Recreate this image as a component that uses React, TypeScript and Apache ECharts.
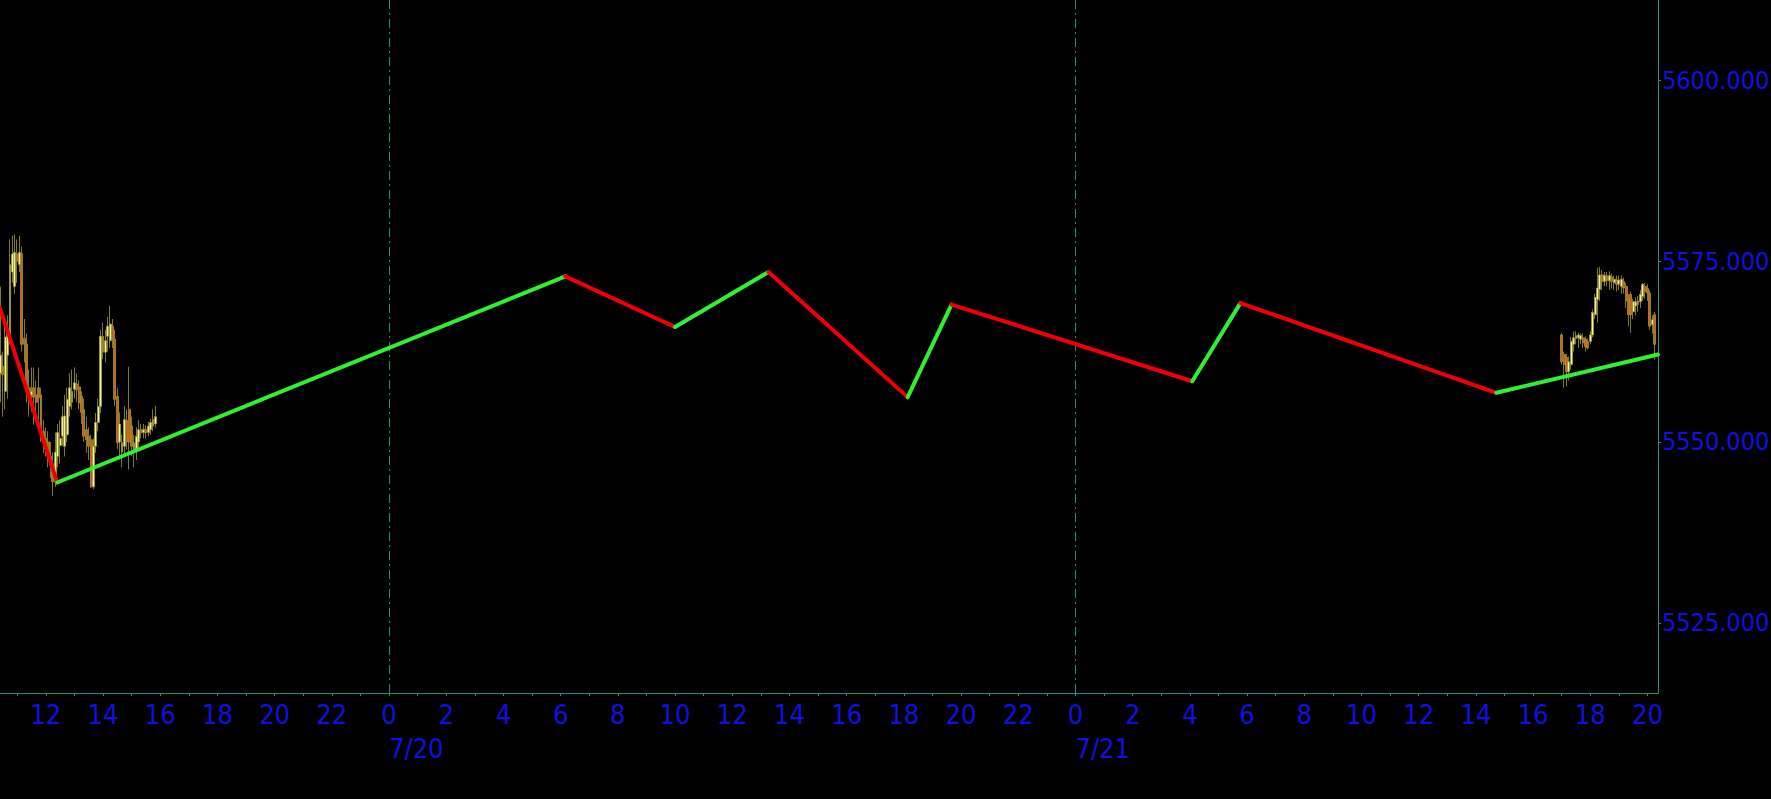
import React, { useEffect, useRef } from "react";
import * as echarts from "echarts";

// ---------- DATA ----------
// times are written as "M/D HH:MM"
const viewStart = "7/19 10:24";
const viewEnd = "7/21 20:22";
const referenceDay = 20; // hours are counted from 7/20 00:00

const leftSessionStart = "7/19 10:25";
const rightSessionStart = "7/21 17:00";
const barMinutes = 5;

// [open, close, low, high]
const leftOHLC: number[][] = [
  [5559.5, 5562.0, 5555.5, 5571.5],
  [5560.5, 5559.3, 5553.5, 5562.5],
  [5557.0, 5564.5, 5554.5, 5566.0],
  [5562.0, 5565.0, 5556.0, 5567.5],
  [5564.5, 5574.5, 5563.5, 5578.0],
  [5573.5, 5576.0, 5572.0, 5578.5],
  [5571.5, 5576.2, 5570.5, 5578.7],
  [5576.0, 5575.0, 5572.0, 5578.0],
  [5574.5, 5576.2, 5573.5, 5578.5],
  [5576.0, 5563.5, 5562.5, 5577.0],
  [5564.3, 5563.5, 5561.0, 5567.0],
  [5563.5, 5557.0, 5555.5, 5565.0],
  [5557.5, 5556.3, 5553.5, 5560.0],
  [5556.5, 5557.0, 5554.2, 5560.3],
  [5557.5, 5556.2, 5552.4, 5560.3],
  [5556.5, 5555.5, 5553.0, 5558.5],
  [5557.5, 5556.1, 5552.4, 5560.3],
  [5556.5, 5551.0, 5550.0, 5557.5],
  [5551.5, 5550.2, 5548.5, 5553.0],
  [5550.5, 5549.8, 5548.0, 5552.0],
  [5550.0, 5547.5, 5546.5, 5551.5],
  [5548.0, 5546.8, 5545.0, 5550.0],
  [5547.0, 5544.5, 5542.5, 5548.5],
  [5544.5, 5548.6, 5543.8, 5551.3],
  [5548.0, 5551.3, 5546.5, 5552.5],
  [5549.5, 5550.5, 5547.0, 5553.0],
  [5550.8, 5553.5, 5549.5, 5555.0],
  [5549.4, 5553.6, 5548.0, 5556.5],
  [5551.0, 5555.9, 5550.0, 5557.5],
  [5554.9, 5557.5, 5553.5, 5559.5],
  [5555.5, 5557.0, 5554.5, 5560.0],
  [5557.3, 5558.2, 5556.0, 5560.3],
  [5558.0, 5557.2, 5555.5, 5559.5],
  [5557.6, 5555.4, 5554.5, 5558.5],
  [5556.3, 5554.1, 5552.5, 5557.0],
  [5554.5, 5550.8, 5550.0, 5556.0],
  [5551.7, 5550.3, 5548.5, 5553.5],
  [5550.8, 5549.4, 5547.5, 5552.0],
  [5550.3, 5543.8, 5543.7, 5551.0],
  [5543.8, 5549.4, 5543.5, 5550.5],
  [5549.4, 5552.7, 5548.5, 5554.0],
  [5552.7, 5554.9, 5551.5, 5556.0],
  [5554.9, 5564.6, 5554.0, 5565.5],
  [5564.6, 5562.4, 5561.5, 5566.5],
  [5562.4, 5564.0, 5561.0, 5565.5],
  [5564.6, 5566.0, 5562.5, 5567.3],
  [5564.0, 5566.3, 5563.0, 5568.8],
  [5566.0, 5564.2, 5563.0, 5567.0],
  [5564.2, 5555.9, 5555.0, 5565.5],
  [5556.3, 5549.9, 5549.0, 5557.5],
  [5550.0, 5552.5, 5547.6, 5554.1],
  [5548.6, 5549.9, 5546.5, 5551.0],
  [5549.4, 5553.1, 5548.0, 5555.0],
  [5553.0, 5550.0, 5549.0, 5554.5],
  [5554.5, 5550.0, 5546.2, 5560.4],
  [5552.2, 5549.4, 5548.0, 5553.5],
  [5548.6, 5549.9, 5546.5, 5551.0],
  [5549.0, 5550.8, 5547.5, 5552.0],
  [5550.0, 5551.7, 5549.0, 5553.0],
  [5551.7, 5551.3, 5550.5, 5552.5],
  [5551.3, 5551.7, 5550.5, 5552.5],
  [5551.7, 5551.3, 5550.5, 5552.3],
  [5551.3, 5552.2, 5550.8, 5552.8],
  [5551.7, 5552.7, 5551.0, 5553.2],
  [5552.2, 5553.1, 5551.5, 5554.5],
  [5552.5, 5553.5, 5552.0, 5555.0],
];

const rightOHLC: number[][] = [
  [5564.8, 5561.1, 5560.7, 5565.1],
  [5562.1, 5560.7, 5557.5, 5562.5],
  [5561.7, 5559.7, 5557.7, 5562.2],
  [5559.7, 5561.1, 5558.5, 5561.8],
  [5560.7, 5563.9, 5560.0, 5564.5],
  [5563.5, 5564.4, 5562.5, 5565.3],
  [5564.3, 5564.7, 5563.5, 5565.3],
  [5564.4, 5564.8, 5563.0, 5565.1],
  [5564.2, 5564.7, 5563.5, 5565.0],
  [5564.4, 5563.7, 5563.0, 5565.0],
  [5564.2, 5563.2, 5562.5, 5564.6],
  [5563.9, 5563.0, 5562.8, 5564.3],
  [5563.9, 5564.8, 5563.5, 5565.3],
  [5564.8, 5567.9, 5564.5, 5568.3],
  [5567.6, 5570.0, 5567.0, 5570.5],
  [5569.7, 5571.3, 5566.5, 5574.1],
  [5571.1, 5573.1, 5569.5, 5574.2],
  [5573.1, 5572.2, 5571.0, 5573.8],
  [5572.2, 5573.0, 5571.5, 5573.5],
  [5573.0, 5572.3, 5571.5, 5573.5],
  [5572.3, 5573.0, 5571.0, 5573.6],
  [5572.8, 5572.2, 5571.2, 5573.3],
  [5572.0, 5572.5, 5571.0, 5573.0],
  [5572.4, 5571.8, 5570.8, 5573.0],
  [5571.8, 5572.4, 5571.0, 5573.0],
  [5571.5, 5572.5, 5570.5, 5573.0],
  [5572.2, 5571.3, 5570.5, 5572.7],
  [5571.5, 5569.5, 5568.5, 5572.0],
  [5569.8, 5567.6, 5566.0, 5570.5],
  [5570.4, 5567.6, 5565.1, 5570.8],
  [5568.0, 5569.4, 5567.0, 5569.8],
  [5568.8, 5569.4, 5567.5, 5570.0],
  [5569.0, 5569.5, 5568.0, 5570.2],
  [5569.4, 5570.4, 5568.5, 5571.0],
  [5570.1, 5571.8, 5569.5, 5572.0],
  [5571.5, 5570.8, 5569.8, 5572.0],
  [5571.2, 5570.6, 5569.5, 5571.8],
  [5570.6, 5566.0, 5565.5, 5571.0],
  [5566.2, 5566.9, 5565.0, 5567.5],
  [5567.6, 5563.5, 5561.4, 5568.0],
];

// zigzag pivots
const zigzagTimes = [
  "7/19 10:24", "7/19 12:24", "7/20 06:10", "7/20 10:00", "7/20 13:16",
  "7/20 18:08", "7/20 19:40", "7/21 04:05", "7/21 05:46", "7/21 14:43", "7/21 20:22",
];
const zigzagValues = [
  5568.5, 5544.4, 5572.9, 5565.9, 5573.5, 5556.2, 5569.0, 5558.4, 5569.2, 5556.8, 5562.1,
];

const dayStarts = ["7/20 00:00", "7/21 00:00"];
const dayLabels = ["7/20", "7/21"];

const priceMin = 5515.3;
const priceMax = 5611.1;
const priceTicks = [5525, 5550, 5575, 5600];

// ---------- HELPERS ----------
function hoursFrom(label: string): number {
  const [md, hm] = label.split(" ");
  const [, d] = md.split("/").map(Number);
  const [h, mi] = hm.split(":").map(Number);
  return (d - referenceDay) * 24 + h + mi / 60;
}

const AXIS_COLOR = "#2a8c86";
const LABEL_COLOR = "#1010e0";
const FONT = "'DejaVu Sans Condensed', 'DejaVu Sans', sans-serif";
const FONT_SIZE = 27;
const UP_FILL = "#f6f2a6";
const DOWN_FILL = "#d8561a";
const CANDLE_EDGE = "#a09a30";
const GREEN = "#30f030";
const RED = "#f00000";

export default function App() {
  const ref = useRef<HTMLDivElement>(null);

  useEffect(() => {
    if (!ref.current) return;
    const chart = echarts.init(ref.current, undefined, { renderer: "svg" });

    const xMin = hoursFrom(viewStart);
    const xMax = hoursFrom(viewEnd);

    const candles: number[][] = [];
    const l0 = hoursFrom(leftSessionStart);
    leftOHLC.forEach((c, i) => candles.push([l0 + (i * barMinutes) / 60, ...c]));
    const r0 = hoursFrom(rightSessionStart);
    rightOHLC.forEach((c, i) => candles.push([r0 + (i * barMinutes) / 60, ...c]));

    const hourTicks: number[] = [];
    for (let h = Math.ceil(xMin); h <= Math.floor(xMax); h++) hourTicks.push(h);
    const hourLabels = hourTicks.filter((h) => ((h % 2) + 2) % 2 === 0);
    const dayValues = dayStarts.map(hoursFrom);

    const zigSeries = zigzagTimes.slice(1).map((t, i) => {
      const up = zigzagValues[i + 1] > zigzagValues[i];
      return {
        type: "line",
        xAxisIndex: 0,
        yAxisIndex: 0,
        data: [
          [hoursFrom(zigzagTimes[i]), zigzagValues[i]],
          [hoursFrom(t), zigzagValues[i + 1]],
        ],
        symbol: "none",
        silent: true,
        z: 5,
        lineStyle: { color: up ? GREEN : RED, width: 4, cap: "round" },
      };
    });

    chart.setOption({
      animation: false,
      backgroundColor: "#000000",
      grid: {
        left: 0,
        right: 113,
        top: 0,
        bottom: 106,
        containLabel: false,
        outerBoundsMode: "none",
      },
      xAxis: [
        {
          type: "value",
          position: "bottom",
          min: xMin,
          max: xMax,
          axisLine: { show: true, onZero: false, lineStyle: { color: AXIS_COLOR, width: 1 } },
          axisTick: {
            show: true,
            customValues: hourTicks,
            length: 3,
            lineStyle: { color: AXIS_COLOR },
          },
          splitLine: { show: false },
          axisLabel: {
            customValues: hourLabels,
            formatter: (v: number) => String(((Math.round(v) % 24) + 24) % 24),
            color: LABEL_COLOR,
            fontFamily: FONT,
            fontSize: FONT_SIZE,
            lineHeight: 27,
            margin: 8,
            hideOverlap: false,
          },
        },
        {
          type: "value",
          position: "bottom",
          min: xMin,
          max: xMax,
          axisLine: { show: false, onZero: false },
          axisTick: { show: false },
          splitLine: { show: false },
          axisLabel: {
            customValues: dayValues,
            formatter: (v: number) => {
              const idx = dayValues.findIndex((d) => Math.abs(d - v) < 1e-6);
              return idx >= 0 ? dayLabels[idx] : "";
            },
            align: "left",
            color: LABEL_COLOR,
            fontFamily: FONT,
            fontSize: FONT_SIZE,
            lineHeight: 27,
            margin: 42,
            hideOverlap: false,
          },
        },
      ],
      yAxis: {
        type: "value",
        position: "right",
        min: priceMin,
        max: priceMax,
        axisLine: { show: true, onZero: false, lineStyle: { color: AXIS_COLOR, width: 1 } },
        axisTick: {
          show: true,
          customValues: priceTicks,
          length: 3,
          lineStyle: { color: AXIS_COLOR },
        },
        splitLine: { show: false },
        axisLabel: {
          customValues: priceTicks,
          formatter: (v: number) => v.toFixed(3),
          color: LABEL_COLOR,
          fontFamily: FONT,
          fontSize: 25,
          margin: 4,
          hideOverlap: false,
        },
      },
      series: [
        {
          type: "candlestick",
          xAxisIndex: 0,
          yAxisIndex: 0,
          data: candles,
          encode: { x: 0, y: [1, 2, 3, 4] },
          barWidth: 2.4,
          silent: true,
          z: 3,
          itemStyle: {
            color: UP_FILL,
            color0: DOWN_FILL,
            borderColor: CANDLE_EDGE,
            borderColor0: CANDLE_EDGE,
            borderWidth: 0.8,
          },
          markLine: {
            silent: true,
            symbol: ["none", "none"],
            label: { show: false },
            lineStyle: { color: AXIS_COLOR, width: 1, type: [9, 4, 2, 4] },
            data: dayValues.map((d) => ({ xAxis: d })),
          },
        },
        ...zigSeries,
      ],
    });

    return () => chart.dispose();
  }, []);

  return (
    <div
      ref={ref}
      style={{
        position: "fixed",
        left: 0,
        top: 0,
        width: 1771,
        height: 799,
        background: "#000",
      }}
    />
  );
}
